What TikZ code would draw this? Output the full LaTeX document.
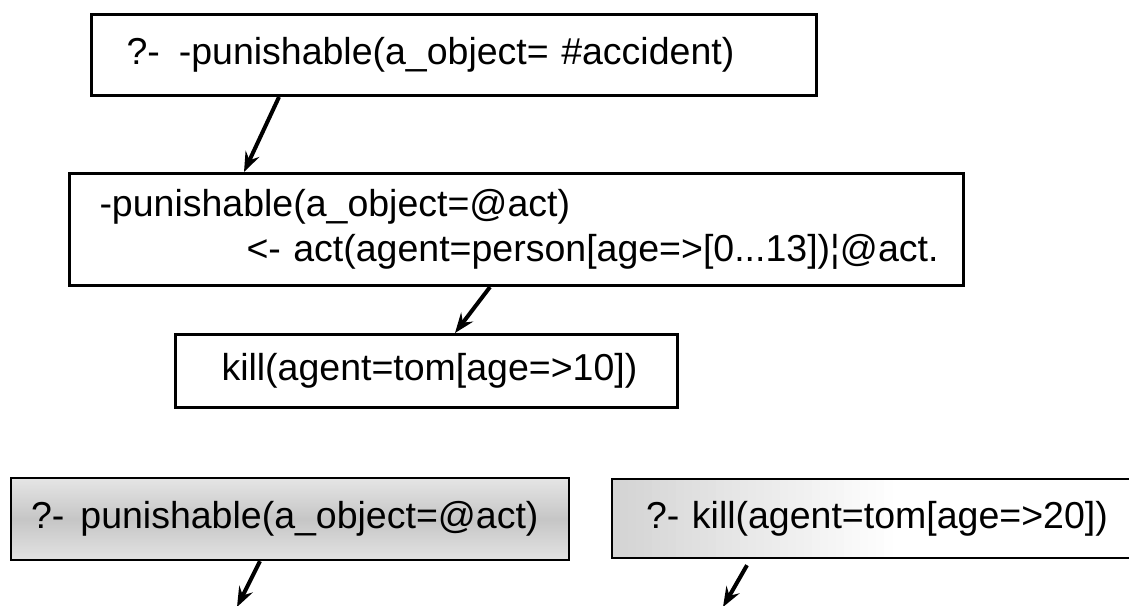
\documentclass[tikz,border=0pt]{standalone}
\usepackage{fontspec}
\setmainfont{Liberation Sans}
\usetikzlibrary{arrows.meta}
\begin{document}
\begin{tikzpicture}[x=1pt,y=-1pt,
  goal/.style={draw, line width=3pt, anchor=north west, align=left,
    inner xsep=0pt, inner ysep=0pt,
    font=\fontsize{37.5}{45}\selectfont},
  query/.style={goal, line width=2.2pt},
  flow/.style={line width=4pt, -{Stealth[length=20pt,width=15pt,inset=7pt]}}
]
\useasboundingbox (0,0) rectangle (1129,605);
\clip (0,0) rectangle (1129,605);

% derivation chain
\node[goal, text width=725pt, minimum height=81pt] (b1) at (90,13)
  {\hspace*{35pt}?-\hspace{19pt}-punishable(a\_object= \#accident)};
\node[goal, text width=894pt, minimum height=112pt] (b2) at (68,172)
  {\hspace*{30pt}-punishable(a\_object=@act)\\
   \hspace*{177pt}<- act(agent=person[age=>[0...13])¦@act.};
\node[goal, text width=502pt, minimum height=73pt] (b3) at (174,333)
  {\hspace*{46pt}kill(agent=tom[age=>10])};

% follow-up queries
\node[query, text width=558pt, minimum height=82pt,
  path picture={\shade[top color=gray!20, bottom color=gray!22, middle color=gray!45]
    (path picture bounding box.south west) rectangle (path picture bounding box.north east);}]
  (b4) at (10,477) {\hspace*{20pt}?-\hspace{16pt}punishable(a\_object=@act)};
% left part tinted, fading out towards the right in narrow strips
\node[query, text width=560pt, minimum height=79pt,
  path picture={\foreach \i in {0,...,34} {
      \pgfmathsetmacro\tint{34*(1-\i/35)}
      \fill[gray!\tint] ([xshift=\i*8pt]path picture bounding box.south west)
        rectangle ([xshift=\i*8pt+8.5pt]path picture bounding box.north west);}}]
  (b5) at (611,478) {\hspace*{34pt}?- kill(agent=tom[age=>20])};

\coordinate (e4) at (237,607);
\coordinate (e5) at (723,607);

\draw[flow] ([xshift=189pt]b1.south west) -- ([xshift=176pt]b2.north west);
\draw[flow] ([xshift=422pt]b2.south west) -- ([xshift=281pt]b3.north west);
\draw[flow] ([xshift=250pt]b4.south west) -- (e4);
\draw[flow] ([xshift=136pt,yshift=-6pt]b5.south west) -- (e5);
\end{tikzpicture}
\end{document}
